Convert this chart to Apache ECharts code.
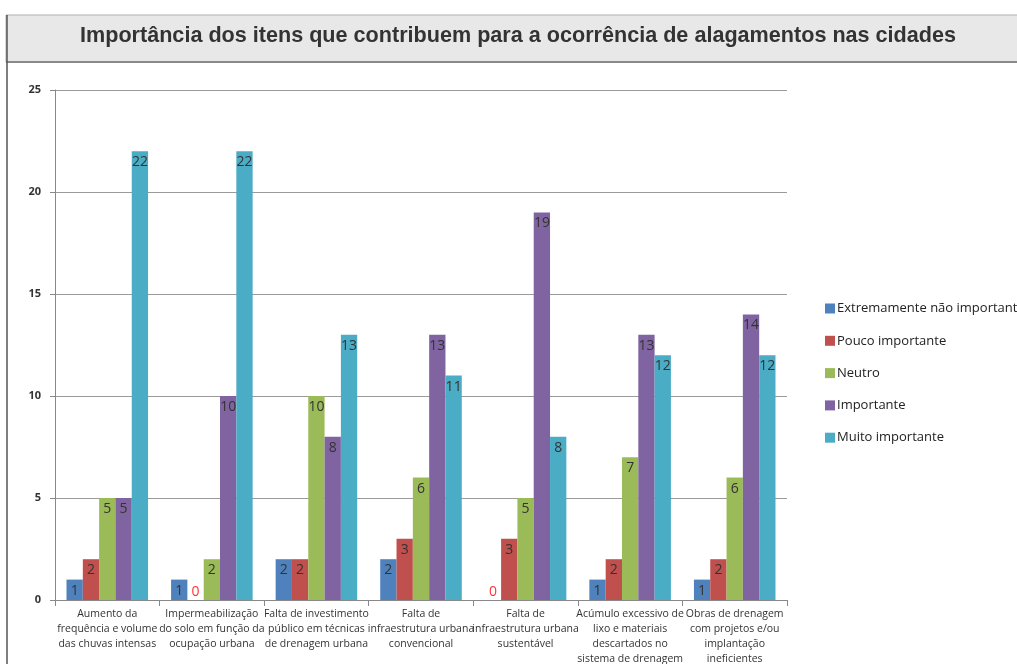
<!DOCTYPE html>
<html>
<head>
<meta charset="utf-8">
<script src="https://cdn.jsdelivr.net/npm/echarts@6/dist/echarts.min.js"></script>
<style>
  html, body { margin: 0; padding: 0; background: #ffffff; }
  #chart { width: 1017px; height: 664px; }
</style>
</head>
<body>
<div id="chart"></div>
<script>
// Categories (x axis)
const categories = [
  'Aumento da\nfrequência e volume\ndas chuvas intensas',
  'Impermeabilização\ndo solo em função da\nocupação urbana',
  'Falta de investimento\npúblico em técnicas\nde drenagem urbana',
  'Falta de\ninfraestrutura urbana\nconvencional',
  'Falta de\ninfraestrutura urbana\nsustentável',
  'Acúmulo excessivo de\nlixo e materiais\ndescartados no\nsistema de drenagem',
  'Obras de drenagem\ncom projetos e/ou\nimplantação\nineficientes'
];

// Series names and values
const seriesNames = ['Extremamente não importante', 'Pouco importante', 'Neutro', 'Importante', 'Muito importante'];
const extremamenteNaoImportante = [1, 1, 2, 2, 0, 1, 1];
const poucoImportante = [2, 0, 2, 3, 3, 2, 2];
const neutro = [5, 2, 10, 6, 5, 7, 6];
const importante = [5, 10, 8, 13, 19, 13, 14];
const muitoImportante = [22, 22, 13, 11, 8, 12, 12];

const seriesValues = [extremamenteNaoImportante, poucoImportante, neutro, importante, muitoImportante];
const colors = ['#4F81BD', '#C0504D', '#9BBB59', '#8064A2', '#4BACC6'];

const chart = echarts.init(document.getElementById('chart'));

const series = seriesNames.map((name, i) => ({
  name: name,
  type: 'bar',
  barGap: '0%',
  barCategoryGap: '22%',
  itemStyle: { color: colors[i] },
  label: {
    show: true,
    position: 'insideTop',
    distance: 4,
    color: '#333333',
    fontFamily: 'Open Sans, sans-serif',
    fontSize: 14
  },
  // zero values get a red label sitting on the baseline
  data: seriesValues[i].map(v => v === 0
    ? { value: v, label: { position: 'top', distance: 1, color: '#ff3333' } }
    : v)
}));

chart.setOption({
  animation: false,
  textStyle: { fontFamily: 'Open Sans, sans-serif' },
  color: colors,
  graphic: [
    // title band
    {
      type: 'rect',
      shape: { x: 6, y: 15, width: 1020, height: 47 },
      style: { fill: '#e8e8e8', stroke: '#b0b0b0', lineWidth: 1 },
      z: -1
    },
    {
      type: 'line',
      shape: { x1: 6, y1: 62, x2: 1017, y2: 62 },
      style: { stroke: '#8a8a8a', lineWidth: 2 }
    },
    // left frame line
    {
      type: 'line',
      shape: { x1: 7, y1: 15, x2: 7, y2: 664 },
      style: { stroke: '#555555', lineWidth: 1.5 }
    },
    {
      type: 'text',
      left: 80,
      top: 25,
      style: {
        text: 'Importância dos itens que contribuem para a ocorrência de alagamentos nas cidades',
        font: 'bold 21.6px "Liberation Sans", Arial, sans-serif',
        fill: '#333333'
      }
    }
  ],
  legend: {
    orient: 'vertical',
    left: 820,
    top: 297,
    itemGap: 19.3,
    itemWidth: 10,
    itemHeight: 10,
    icon: 'rect',
    textStyle: { fontSize: 13, color: '#222222', fontFamily: 'Open Sans, sans-serif', padding: [0, 0, 0, -3] },
    data: seriesNames
  },
  grid: { left: 55, right: 230, top: 90, bottom: 64, containLabel: false, outerBoundsMode: 'none' },
  xAxis: {
    type: 'category',
    data: categories,
    axisLine: { lineStyle: { color: '#888888' } },
    axisTick: { show: true, length: 6, lineStyle: { color: '#888888' } },
    axisLabel: {
      interval: 0,
      color: '#333333',
      fontSize: 10.5,
      lineHeight: 15,
      margin: 7,
      fontFamily: 'Open Sans, sans-serif'
    }
  },
  yAxis: {
    type: 'value',
    min: 0,
    max: 25,
    interval: 5,
    axisLine: { show: true, lineStyle: { color: '#888888' } },
    axisTick: { show: true, length: 5, lineStyle: { color: '#888888' } },
    splitLine: { lineStyle: { color: '#9a9a9a' } },
    axisLabel: { color: '#333333', fontSize: 11, margin: 14, fontWeight: 'bold' }
  },
  series: series
});
</script>
</body>
</html>
